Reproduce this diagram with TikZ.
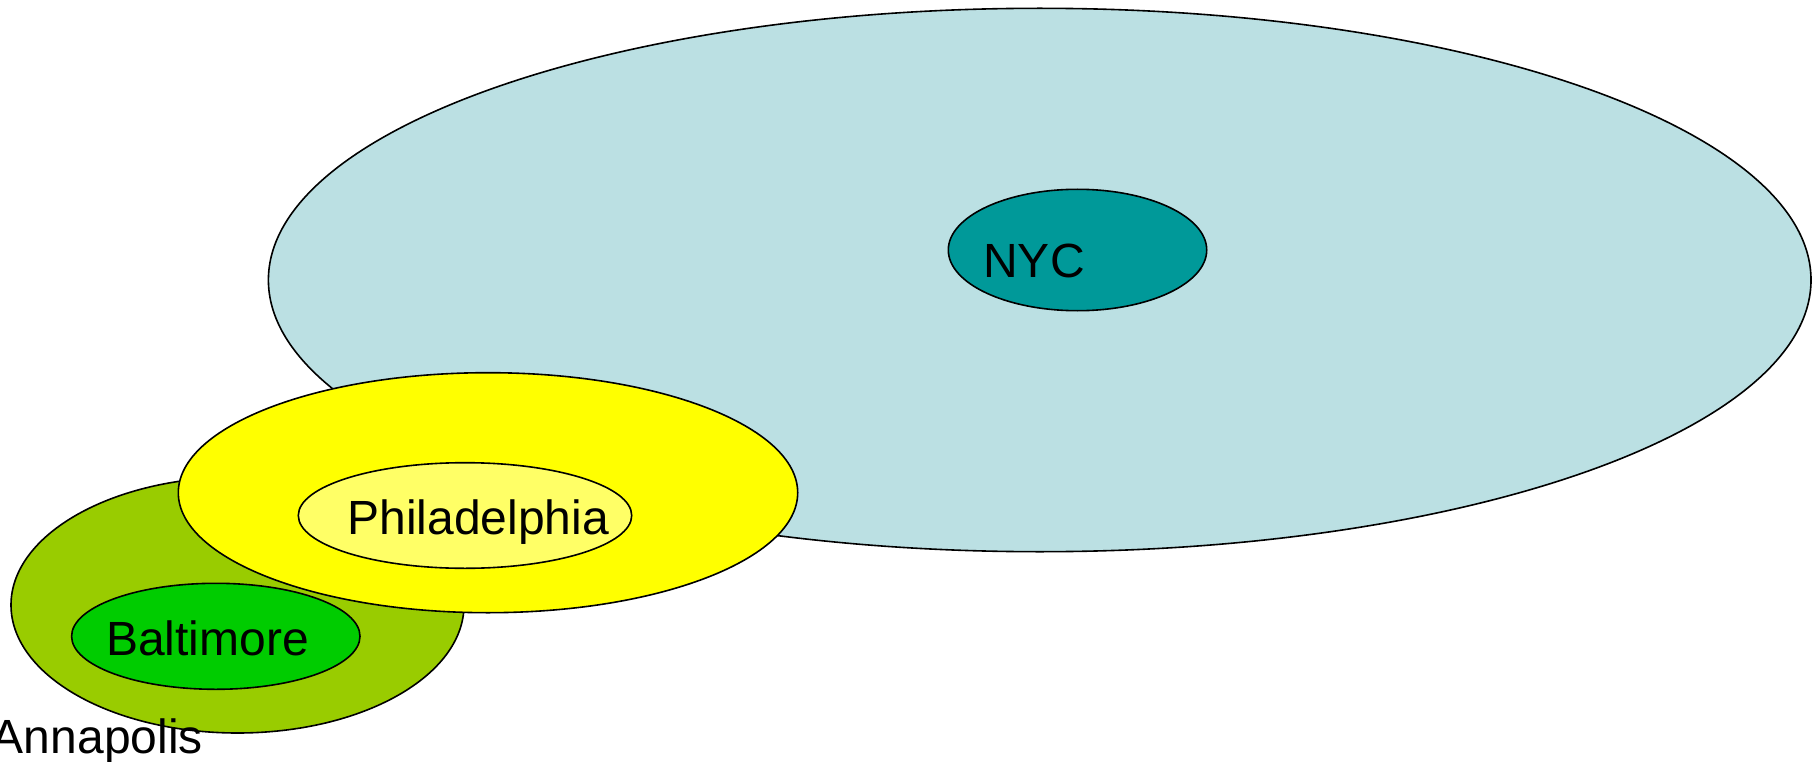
\documentclass[tikz,border=0pt]{standalone}
\usepackage{fontspec}
\setmainfont{Liberation Sans}
\usetikzlibrary{shapes.geometric}
\definecolor{regionblue}{HTML}{BBE0E3}
\definecolor{nycteal}{HTML}{009999}
\definecolor{mdgreen}{HTML}{99CC00}
\definecolor{baltgreen}{HTML}{00CC00}
\definecolor{payellow}{HTML}{FFFF00}
\definecolor{phillyyellow}{HTML}{FFFF66}
\tikzset{
  region/.style={ellipse, draw=black, line width=1.6pt, inner sep=0pt, outer sep=0pt},
  city/.style={inner sep=0pt, anchor=base, font=\fontsize{48}{56}\selectfont}
}
\begin{document}
\begin{tikzpicture}[x=1pt, y=-1pt]
  \useasboundingbox (0,0) rectangle (1817,762);
  % New York area
  \node[region, fill=regionblue, minimum width=1542.6pt, minimum height=543.4pt] (ny) at (1039.7,280) {};
  \node[region, fill=nycteal, minimum width=258.4pt, minimum height=121.4pt] (nyc) at (1077.5,250) {};
  % Maryland area
  \node[region, fill=mdgreen, minimum width=453pt, minimum height=256pt] (md) at (237.5,605) {};
  \node[region, fill=baltgreen, minimum width=288.4pt, minimum height=106pt] (balt) at (215.8,636.3) {};
  % Pennsylvania area
  \node[region, fill=payellow, minimum width=619.4pt, minimum height=240pt] (pa) at (488,492.7) {};
  \node[region, fill=phillyyellow, minimum width=333.4pt, minimum height=105.6pt] (philly) at (465,515.5) {};
  % Labels
  \node[city] (nyclabel) at (1034,277.3) {NYC};
  \node[city] (phillylabel) at (478.3,534) {Philadelphia};
  \node[city] (baltlabel) at (207.5,655) {Baltimore};
  \node[city, anchor=base east] (annlabel) at (203,753.3) {Annapolis};
\end{tikzpicture}
\end{document}
